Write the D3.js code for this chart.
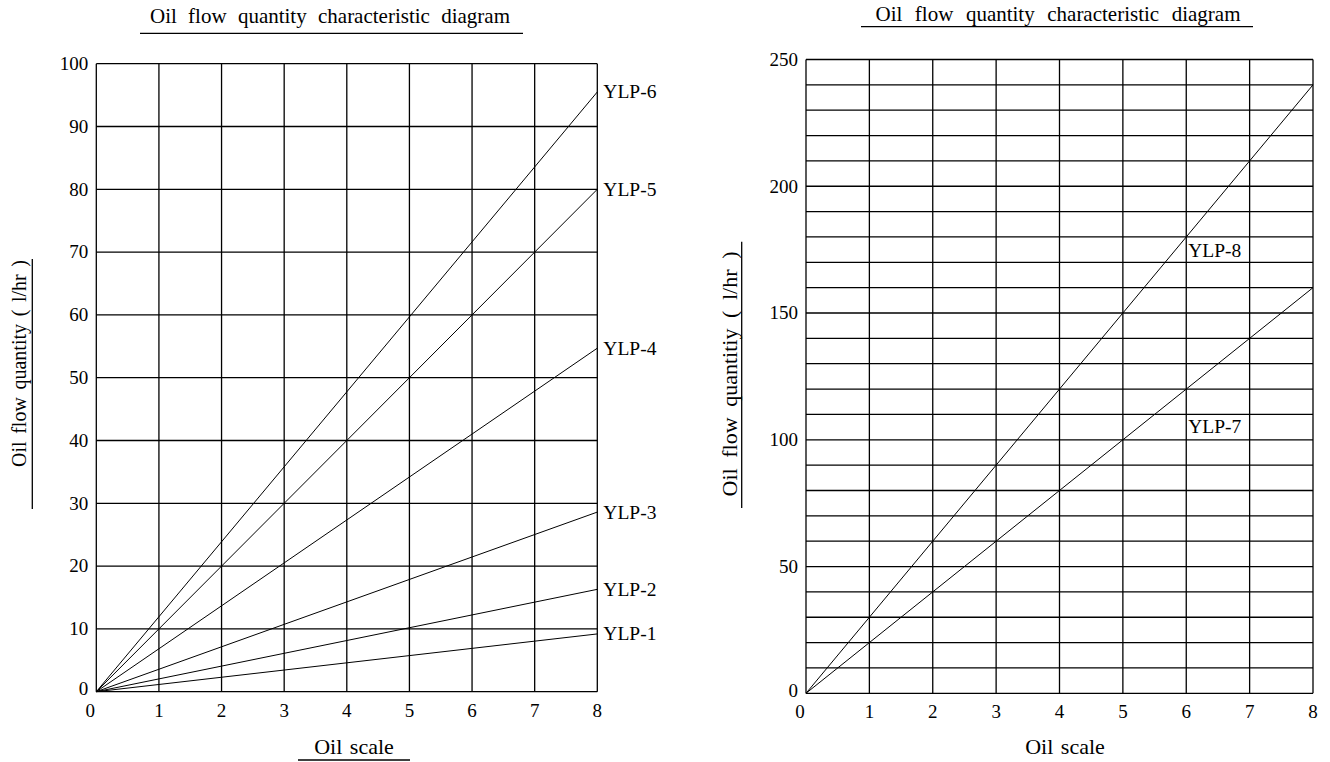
<!DOCTYPE html>
<html><head><meta charset="utf-8">
<script src="https://cdn.jsdelivr.net/npm/d3@7"></script>
<style>
body{margin:0;background:#fff;}
svg{display:block;font-family:"Liberation Serif","Times New Roman",serif;}
text{fill:#000;}
</style></head><body>
<svg id="c" width="1330" height="762"></svg>
<script>
// ---- data ----
const titleText = "Oil flow quantity characteristic diagram";
const xTicks = [0,1,2,3,4,5,6,7,8];
const leftYTicks = [0,10,20,30,40,50,60,70,80,90,100];
const rightYTicks = [0,50,100,150,200,250];
const rightMinorGrid = [10,20,30,40,60,70,80,90,110,120,130,140,160,170,180,190,210,220,230,240];
const seriesX = [0,8];
const leftNames = ["YLP-1","YLP-2","YLP-3","YLP-4","YLP-5","YLP-6"];
const leftValues = [[0,9.2],[0,16.3],[0,28.6],[0,54.7],[0,80],[0,95.5]];
const rightNames = ["YLP-7","YLP-8"];
const rightValues = [[0,160],[0,240]];
const rightLabelAt = [[6,102.5],[6,172]];

const svg = d3.select("#c");

function panel(opt){
  const g = svg.append("g");
  const x = d3.scaleLinear().domain([0,8]).range([opt.x0,opt.x1]);
  const y = d3.scaleLinear().domain([0,opt.ymax]).range([opt.y0,opt.y1]);
  g.selectAll(".h").data(opt.hGrid).join("line")
    .attr("x1",x(0)).attr("x2",x(8)).attr("y1",d=>y(d)).attr("y2",d=>y(d))
    .attr("stroke","#000").attr("stroke-width",1.3);
  g.selectAll(".v").data(xTicks).join("line")
    .attr("x1",d=>x(d)).attr("x2",d=>x(d)).attr("y1",y(0)).attr("y2",y(opt.ymax))
    .attr("stroke","#000").attr("stroke-width",1.3);
  g.selectAll(".xt").data(xTicks).join("text")
    .attr("x",d=>x(d)+(d===0?-6:0)).attr("y",opt.y0+25)
    .attr("text-anchor","middle").attr("font-size",19).text(d=>d);
  g.selectAll(".yt").data(opt.yTicks).join("text")
    .attr("x",x(0)-8).attr("y",d=>y(d)+(d===0?-3:0)).attr("dy","0.33em")
    .attr("text-anchor","end").attr("font-size",19).text(d=>d);
  const line = d3.line().x((d,i)=>x(seriesX[i])).y(d=>y(d));
  g.selectAll(".s").data(opt.values).join("path")
    .attr("d",d=>line(d)).attr("fill","none").attr("stroke","#000").attr("stroke-width",1);
  return {g,x,y};
}

const L = panel({x0:96.3,x1:597.3,y0:691.7,y1:63.7,ymax:100,yTicks:leftYTicks,hGrid:leftYTicks,values:leftValues});
L.g.selectAll(".lab").data(leftNames).join("text")
  .attr("x",L.x(8)+6).attr("y",(d,i)=>L.y(leftValues[i][1])).attr("dy","0.33em")
  .attr("font-size",19.5).text(d=>d);

const R = panel({x0:806,x1:1313,y0:693.3,y1:59.5,ymax:250,yTicks:rightYTicks,hGrid:rightYTicks.concat(rightMinorGrid),values:rightValues});
R.g.selectAll(".lab").data(rightNames).join("text")
  .attr("x",(d,i)=>R.x(rightLabelAt[i][0])+2).attr("y",(d,i)=>R.y(rightLabelAt[i][1]))
  .attr("font-size",19.5).text(d=>d);

// spread extra width over the word gaps, like the reference
function fitWords(t,target){
  const w = t.node().getComputedTextLength();
  const n = (t.text().match(/ /g)||[]).length;
  if(n>0 && target>w) t.attr("word-spacing",(target-w)/n);
  return t;
}
function hText(x,y,txt,size,len){
  const t = svg.append("text").attr("x",x).attr("y",y).attr("text-anchor","middle")
    .attr("font-size",size).text(txt);
  if(len) fitWords(t,len);
  return t;
}
function hLine(x1,x2,y){
  svg.append("line").attr("x1",x1).attr("x2",x2).attr("y1",y).attr("y2",y).attr("stroke","#000").attr("stroke-width",1.3);
}
function vLine(x,y1,y2){
  svg.append("line").attr("x1",x).attr("x2",x).attr("y1",y1).attr("y2",y2).attr("stroke","#000").attr("stroke-width",1.3);
}
hText(330,23,titleText,21,360);
hLine(140,523,33.3);
hText(1058,21,titleText,21,365);
hLine(861,1253,26.7);
hText(354,754,"Oil scale",22).attr("word-spacing",2);
hLine(298,410,760);
hText(1065,754,"Oil scale",22).attr("word-spacing",2);

const yl1 = svg.append("text").attr("transform","translate(26,363.5) rotate(-90)")
  .attr("text-anchor","middle").attr("font-size",20).text("Oil flow quantity ( l/hr )");
fitWords(yl1,207);
vLine(32.3,259,509);
const yl2 = svg.append("text").attr("transform","translate(737.3,374) rotate(-90)")
  .attr("text-anchor","middle").attr("font-size",22).text("Oil flow quantitiy ( l/hr )");
fitWords(yl2,245);
vLine(741.7,241.7,508);
</script>
</body></html>
